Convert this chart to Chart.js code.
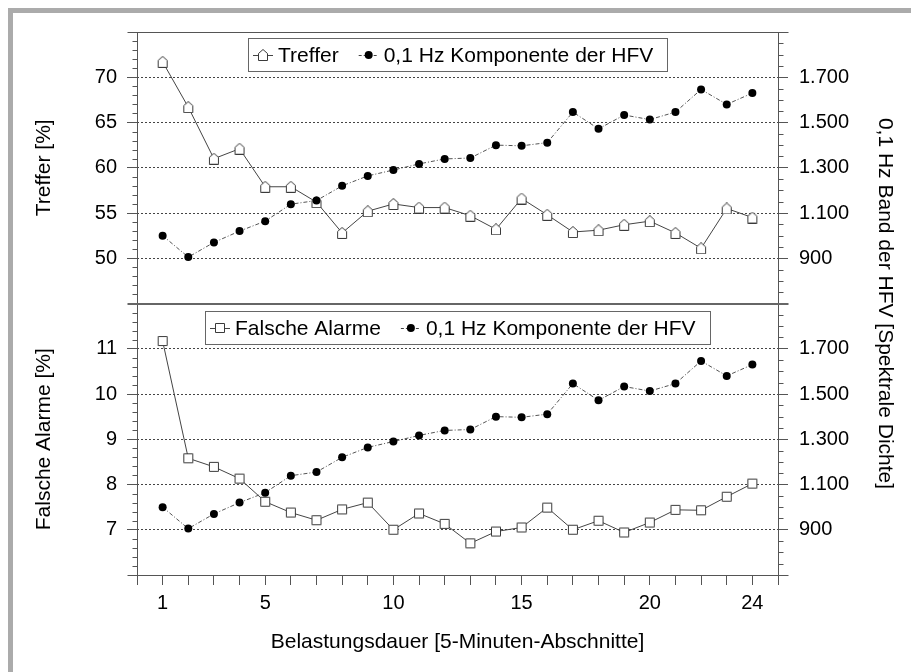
<!DOCTYPE html>
<html><head><meta charset="utf-8">
<script src="https://cdn.jsdelivr.net/npm/chart.js@4/dist/chart.umd.min.js"></script>
<style>html,body{margin:0;padding:0;background:#fff;overflow:hidden}canvas{display:block}</style>
</head><body>
<canvas id="c" width="911" height="672"></canvas>
<script>
// ---- data ----
const abschnitte = [1,2,3,4,5,6,7,8,9,10,11,12,13,14,15,16,17,18,19,20,21,22,23,24];
const xTickLabels = [1,5,10,15,20,24];
const treffer = [71.7,66.7,61.0,62.1,57.9,57.9,56.2,52.8,55.2,56.0,55.6,55.6,54.7,53.2,56.6,54.8,52.9,53.1,53.7,54.1,52.8,51.1,55.5,54.5];
const falscheAlarme = [11.17,8.58,8.39,8.13,7.62,7.38,7.21,7.45,7.6,7.0,7.36,7.13,6.7,6.96,7.05,7.49,7.0,7.2,6.94,7.16,7.44,7.43,7.73,8.02];
const hfv = [1000,905,970,1020,1064,1139,1155,1220,1264,1290,1317,1339,1343,1400,1397,1411,1546,1472,1533,1513,1546,1646,1580,1630];
const trefferTicks = [50,55,60,65,70];
const alarmTicks = [7,8,9,10,11];
const hfvTicks = [900,1100,1300,1500,1700];
const txtTreffer = 'Treffer';
const txtAlarme = 'Falsche Alarme';
const txtHfv = '0,1 Hz Komponente der HFV';
const titleTreffer = 'Treffer [%]';
const titleAlarme = 'Falsche Alarme [%]';
const titleHfv = '0,1 Hz Band der HFV [Spektrale Dichte]';
const titleX = 'Belastungsdauer [5-Minuten-Abschnitte]';

const FONT = "'Liberation Sans', Arial, Helvetica, sans-serif";
const AXIS = '#555';

function makeMarker(kind) {
  const c = document.createElement('canvas');
  c.width = 12; c.height = 12;
  const g = c.getContext('2d');
  g.fillStyle = '#fff'; g.strokeStyle = '#3a3a3a'; g.lineWidth = 1;
  g.beginPath();
  if (kind === 'house') {
    g.moveTo(6, 0.5); g.lineTo(10.5, 4.5); g.lineTo(10.5, 11.5); g.lineTo(1.5, 11.5); g.lineTo(1.5, 4.5); g.closePath();
  } else {
    g.rect(1.5, 1.5, 9, 9);
  }
  g.fill(); g.stroke();
  return c;
}
const house = makeMarker('house');
const square = makeMarker('square');

function pts(arr) { return arr.map((v, i) => ({x: abschnitte[i], y: v})); }
function fmtThousands(v) {
  return v >= 1000 ? Math.floor(v / 1000) + '.' + String(v % 1000).padStart(3, '0') : String(v);
}
function setTicks(list) { return s => { s.ticks = list.map(v => ({value: v})); }; }

function drawLegend(ctx, cx, top, items) {
  ctx.save();
  ctx.font = '21px ' + FONT;
  const seg = 20, gapSeg = 5, gapBetween = 20, padL = 5, padR = 14, h = 33;
  let w = padL + padR;
  items.forEach((it, i) => { w += seg + gapSeg + ctx.measureText(it.text).width; if (i) w += gapBetween; });
  w = Math.round(w);
  let x = Math.round(cx - w / 2);
  ctx.fillStyle = '#fff'; ctx.fillRect(x, top, w, h);
  ctx.strokeStyle = '#666'; ctx.lineWidth = 1; ctx.strokeRect(x + 0.5, top + 0.5, w, h);
  let px = x + padL;
  const cy = top + h / 2 + 0.5;
  items.forEach((it, i) => {
    if (i) px += gapBetween;
    ctx.strokeStyle = '#444'; ctx.lineWidth = 1;
    ctx.setLineDash(it.dash || []);
    ctx.beginPath(); ctx.moveTo(px, Math.round(cy) + 0.5); ctx.lineTo(px + seg, Math.round(cy) + 0.5); ctx.stroke();
    ctx.setLineDash([]);
    const mx = px + seg / 2;
    if (it.marker === 'dot') {
      ctx.fillStyle = '#000'; ctx.beginPath(); ctx.arc(mx, cy, 4, 0, Math.PI * 2); ctx.fill();
    } else {
      const img = it.marker === 'house' ? house : square;
      ctx.drawImage(img, Math.round(mx - 6), Math.round(cy - 6));
    }
    px += seg + gapSeg;
    ctx.fillStyle = '#000'; ctx.textAlign = 'left'; ctx.textBaseline = 'middle';
    ctx.fillText(it.text, px, cy + 1);
    px += ctx.measureText(it.text).width;
  });
  ctx.restore();
}

const decor = {
  id: 'decor',
  beforeDraw(chart) {
    const ctx = chart.ctx;
    ctx.save();
    ctx.fillStyle = '#fff'; ctx.fillRect(0, 0, chart.width, chart.height);
    ctx.fillStyle = '#ababab';
    ctx.fillRect(8, 8, 5, chart.height - 8);
    ctx.fillRect(8, 8, chart.width - 8, 5);
    ctx.restore();
  },
  afterDraw(chart) {
    const ctx = chart.ctx, s = chart.scales, a = chart.chartArea;
    const L = Math.round(a.left) + 0.5, R = Math.round(a.right) + 0.5;
    const T = Math.round(a.top) + 0.5, B = Math.round(a.bottom) + 0.5;
    const mid = Math.round(s.yT.bottom);
    ctx.save();
    ctx.strokeStyle = AXIS; ctx.lineWidth = 1;
    // axis lines
    ctx.beginPath();
    ctx.moveTo(L, T); ctx.lineTo(L, B);
    ctx.moveTo(R, T); ctx.lineTo(R, B);
    ctx.moveTo(L - 10, T); ctx.lineTo(R + 10, T);
    ctx.moveTo(L - 10, B); ctx.lineTo(R + 10, B);
    ctx.stroke();
    // separator
    ctx.lineWidth = 2; ctx.strokeStyle = '#666';
    ctx.beginPath(); ctx.moveTo(L - 10, mid); ctx.lineTo(R + 10, mid); ctx.stroke();
    // minor ticks
    ctx.lineWidth = 1; ctx.strokeStyle = AXIS;
    ctx.beginPath();
    const minor = (scale, from, to, step, majors, side) => {
      for (let k = 0; from + k * step <= to + 1e-9; k++) {
        const v = +(from + k * step).toFixed(4);
        if (majors.some(m => Math.abs(m - v) < 1e-6) || Math.abs(v - from) < 1e-6 || Math.abs(v - to) < 1e-6) continue;
        const y = Math.round(scale.getPixelForValue(v)) + 0.5;
        if (side === 'left') { ctx.moveTo(L - 5, y); ctx.lineTo(L, y); }
        else { ctx.moveTo(R, y); ctx.lineTo(R + 5, y); }
      }
    };
    minor(s.yT, s.yT.min, s.yT.max, 1, trefferTicks, 'left');
    minor(s.yF, s.yF.min, s.yF.max, 0.2, alarmTicks, 'left');
    minor(s.yH1, s.yH1.min, s.yH1.max, 50, hfvTicks, 'right');
    minor(s.yH2, s.yH2.min, s.yH2.max, 50, hfvTicks, 'right');
    ctx.stroke();
    ctx.restore();

    // legends
    const cx = (a.left + a.right) / 2;
    drawLegend(ctx, cx, Math.round(s.yT.top) + 6, [
      {marker: 'house', text: txtTreffer},
      {marker: 'dot', text: txtHfv, dash: [3, 2]}
    ]);
    drawLegend(ctx, cx, Math.round(s.yF.top) + 7, [
      {marker: 'square', text: txtAlarme},
      {marker: 'dot', text: txtHfv, dash: [3, 2]}
    ]);

    // right title spanning both panels
    ctx.save();
    ctx.font = '21px ' + FONT;
    ctx.fillStyle = '#000';
    ctx.translate(885, (a.top + a.bottom) / 2);
    ctx.rotate(Math.PI / 2);
    ctx.textAlign = 'center'; ctx.textBaseline = 'middle';
    ctx.fillText(titleHfv, 0, 0);
    ctx.restore();
  }
};

const tickFont = {family: FONT, size: 20};
const titleFont = {family: FONT, size: 21};
const yGrid = {color: '#444', lineWidth: 1, drawOnChartArea: true, drawTicks: true, tickLength: 10, tickColor: AXIS};
const noBorder = {display: false, dash: [2, 2]};

function hfvDataset(axis) {
  return {
    label: txtHfv, data: pts(hfv), yAxisID: axis, xAxisID: 'x',
    borderColor: '#555', borderWidth: 1, borderDash: [4, 2, 1, 2],
    pointStyle: 'circle', pointRadius: 4, pointBackgroundColor: '#000', pointBorderColor: '#000', pointBorderWidth: 0,
    tension: 0, fill: false
  };
}

new Chart(document.getElementById('c'), {
  type: 'line',
  data: {
    datasets: [
      hfvDataset('yH1'),
      hfvDataset('yH2'),
      {label: txtTreffer, data: pts(treffer), yAxisID: 'yT', xAxisID: 'x', borderColor: '#444', borderWidth: 1,
       pointStyle: house, pointRadius: 6, tension: 0, fill: false},
      {label: txtAlarme, data: pts(falscheAlarme), yAxisID: 'yF', xAxisID: 'x', borderColor: '#444', borderWidth: 1,
       pointStyle: square, pointRadius: 6, tension: 0, fill: false}
    ]
  },
  options: {
    responsive: false, animation: false, devicePixelRatio: 1,
    layout: {padding: {top: 32, left: 0, right: 0, bottom: 0}},
    plugins: {legend: {display: false}, tooltip: {enabled: false}},
    scales: {
      x: {
        type: 'linear', position: 'bottom', min: 0, max: 25,
        afterBuildTicks: setTicks([0, ...abschnitte, 25]),
        ticks: {autoSkip: false, maxRotation: 0, padding: 6, color: '#000', font: tickFont,
                callback: v => xTickLabels.includes(v) ? String(v) : ''},
        grid: {drawOnChartArea: false, drawTicks: true, tickLength: 10, tickColor: AXIS, color: AXIS},
        border: {display: false},
        title: {display: true, text: titleX, color: '#000', font: titleFont, padding: {top: 0, bottom: 17}},
        afterFit: s => { s.height = 97; }
      },
      yF: {
        type: 'linear', position: 'left', stack: 'L', stackWeight: 1, min: 6, max: 12,
        afterBuildTicks: setTicks(alarmTicks),
        ticks: {padding: 10, color: '#000', font: tickFont, callback: v => String(v)},
        grid: yGrid, border: noBorder,
        title: {display: true, text: titleAlarme, color: '#000', font: titleFont, padding: {top: 32, bottom: 0}},
        afterFit: s => { s.width = 137; }
      },
      yT: {
        type: 'linear', position: 'left', stack: 'L', stackWeight: 1, min: 45, max: 75,
        afterBuildTicks: setTicks(trefferTicks),
        ticks: {padding: 10, color: '#000', font: tickFont, callback: v => String(v)},
        grid: yGrid, border: noBorder,
        title: {display: true, text: titleTreffer, color: '#000', font: titleFont, padding: {top: 32, bottom: 0}},
        afterFit: s => { s.width = 137; }
      },
      yH1: {
        type: 'linear', position: 'right', stack: 'R', stackWeight: 1, min: 700, max: 1900,
        afterBuildTicks: setTicks(hfvTicks),
        ticks: {padding: 11, color: '#000', font: tickFont, callback: v => fmtThousands(v)},
        grid: {drawOnChartArea: false, drawTicks: true, tickLength: 10, tickColor: AXIS, color: AXIS},
        border: {display: false},
        afterFit: s => { s.width = 133; }
      },
      yH2: {
        type: 'linear', position: 'right', stack: 'R', stackWeight: 1, min: 700, max: 1900,
        afterBuildTicks: setTicks(hfvTicks),
        ticks: {padding: 11, color: '#000', font: tickFont, callback: v => fmtThousands(v)},
        grid: {drawOnChartArea: false, drawTicks: true, tickLength: 10, tickColor: AXIS, color: AXIS},
        border: {display: false},
        afterFit: s => { s.width = 133; }
      }
    }
  },
  plugins: [decor]
});
</script>
</body></html>
